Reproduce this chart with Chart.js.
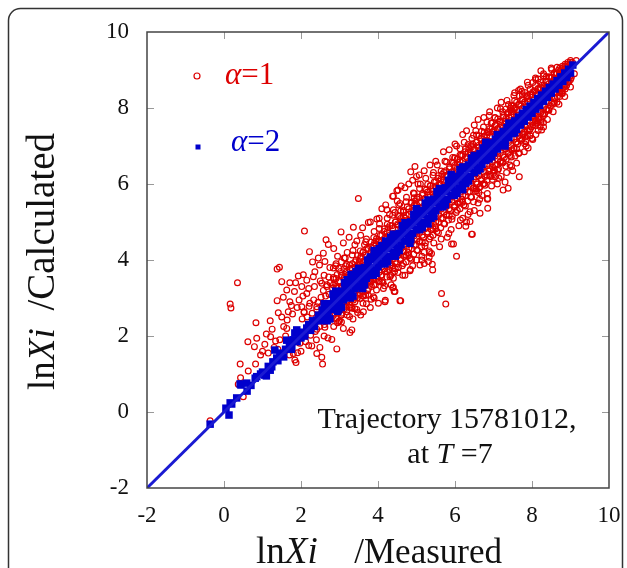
<!DOCTYPE html>
<html>
<head>
<meta charset="utf-8">
<script src="https://cdn.jsdelivr.net/npm/chart.js@4.4.1/dist/chart.umd.min.js"></script>
<style>
  html, body { margin: 0; padding: 0; background: #fff; }
  canvas { display: block; }
</style>
</head>
<body>
<canvas id="scatter" width="627" height="568"></canvas>
<script>
// axis ticks
const xTicks = [-2, 0, 2, 4, 6, 8, 10];
const yTicks = [-2, 0, 2, 4, 6, 8, 10];

// y = x reference line
const diagX = [-2, 10];
const diagY = [-2, 10];

// alpha = 1, dense band along the diagonal
const alpha1Band = [
  [2.03,2.45],[2.08,2.62],[2.12,1.85],[2.16,2.5],[2.21,2.78],[2.25,2.02],[2.29,2.6],[2.33,2.95],[2.37,2.12],[2.41,2.7],[2.44,2.88],[2.48,2.25],
  [2.52,3.02],[2.55,2.8],[2.58,3.2],[2.61,2.3],[2.64,3.05],[2.67,3.35],[2.7,2.5],[2.73,3.1],[2.76,3.4],[2.79,2.45],[2.82,3.25],[2.85,3.5],[2.88,2.6],[2.91,3.3],[2.94,3.62],[2.97,2.72],
  [3.01,3.45],[3.03,3.7],[3.06,2.6],[3.08,3.3],[3.11,2.8],[3.13,3.55],[3.16,3.85],[3.18,2.9],[3.21,3.6],[3.23,3.4],[3.26,2.75],[3.28,3.75],[3.31,3.05],[3.33,3.9],[3.36,2.95],[3.38,3.68],[3.41,3.2],[3.43,4.0],[3.46,3.0],[3.48,3.85],
  [3.51,3.95],[3.53,3.1],[3.56,4.1],[3.58,3.25],[3.61,4.2],[3.63,3.05],[3.66,3.95],[3.68,3.35],[3.71,4.3],[3.73,3.2],[3.76,4.05],[3.78,3.45],[3.81,4.35],[3.83,3.3],[3.86,4.15],[3.88,3.5],[3.91,4.45],[3.93,3.35],[3.96,4.2],[3.98,3.55],
  [3.55,3.75],[3.65,3.7],[3.75,3.85],[3.85,3.95],[3.95,4.5],
  [4.01,4.5],[4.03,3.45],[4.06,4.65],[4.08,3.6],[4.11,4.4],[4.13,3.4],[4.16,4.75],[4.18,3.7],[4.21,4.55],[4.23,3.55],[4.26,4.85],[4.28,3.75],[4.31,4.6],[4.33,3.6],[4.36,4.9],[4.38,3.85],[4.41,4.7],[4.43,3.7],[4.46,5.0],[4.48,3.9],
  [4.04,4.95],[4.14,3.25],[4.24,5.1],[4.34,3.35],[4.44,5.25],
  [4.51,4.95],[4.53,3.8],[4.56,5.15],[4.58,4.0],[4.61,5.0],[4.63,3.85],[4.66,5.3],[4.68,4.1],[4.71,5.1],[4.73,3.95],[4.76,5.4],[4.78,4.2],[4.81,5.2],[4.83,4.05],[4.86,5.5],[4.88,4.3],[4.91,5.3],[4.93,4.15],[4.96,5.55],[4.98,4.4],
  [4.54,5.45],[4.64,3.6],[4.74,5.65],[4.84,3.75],[4.94,5.75],
  [5.01,5.45],[5.03,4.25],[5.06,5.65],[5.08,4.5],[5.11,5.5],[5.13,4.35],[5.16,5.75],[5.18,4.6],[5.21,5.6],[5.23,4.45],[5.26,5.85],[5.28,4.7],[5.31,5.7],[5.33,4.55],[5.36,5.95],[5.38,4.8],[5.41,5.8],[5.43,4.65],[5.46,6.05],[5.48,4.9],
  [5.04,6.0],[5.14,4.0],[5.24,6.15],[5.34,4.2],[5.44,6.3],
  [5.51,5.95],[5.53,4.75],[5.56,6.15],[5.58,5.0],[5.61,6.0],[5.63,4.85],[5.66,6.25],[5.68,5.1],[5.71,6.1],[5.73,4.95],[5.76,6.35],[5.78,5.2],[5.81,6.2],[5.83,5.05],[5.86,6.45],[5.88,5.3],[5.91,6.3],[5.93,5.15],[5.96,6.55],[5.98,5.4],
  [5.54,6.5],[5.64,4.55],[5.74,6.6],[5.84,4.7],[5.94,6.7],
  [6.01,6.45],[6.03,5.25],[6.06,6.65],[6.08,5.5],[6.11,6.5],[6.13,5.35],[6.16,6.75],[6.18,5.6],[6.21,6.6],[6.23,5.45],[6.26,6.85],[6.28,5.7],[6.31,6.7],[6.33,5.55],[6.36,6.95],[6.38,5.8],[6.41,6.8],[6.43,5.65],[6.46,7.05],[6.48,5.9],
  [6.04,7.0],[6.14,5.05],[6.24,7.1],[6.34,5.2],[6.44,7.2],
  [6.51,6.9],[6.53,5.8],[6.56,7.1],[6.58,6.0],[6.61,6.95],[6.63,5.9],[6.66,7.2],[6.68,6.1],[6.71,7.05],[6.73,6.0],[6.76,7.25],[6.78,6.2],[6.81,7.15],[6.83,6.1],[6.86,7.35],[6.88,6.35],[6.91,7.25],[6.93,6.2],[6.96,7.45],[6.98,6.45],
  [6.54,7.4],[6.64,5.6],[6.74,7.5],[6.84,5.75],[6.94,7.6],
  [7.01,7.4],[7.03,6.35],[7.06,7.55],[7.08,6.5],[7.11,7.45],[7.13,6.4],[7.16,7.65],[7.18,6.6],[7.21,7.55],[7.23,6.55],[7.26,7.75],[7.28,6.7],[7.31,7.65],[7.33,6.65],[7.36,7.85],[7.38,6.8],[7.41,7.75],[7.43,6.75],[7.46,7.9],[7.48,6.9],
  [7.04,7.75],[7.14,6.15],[7.24,7.9],[7.34,6.3],[7.44,8.0],
  [7.51,7.9],[7.53,6.95],[7.56,8.0],[7.58,7.1],[7.61,7.95],[7.63,7.05],[7.66,8.1],[7.68,7.2],[7.71,8.05],[7.73,7.15],[7.76,8.2],[7.78,7.3],[7.81,8.15],[7.83,7.25],[7.86,8.3],[7.88,7.4],[7.91,8.25],[7.93,7.4],[7.96,8.35],[7.98,7.5],
  [7.55,8.2],[7.65,6.8],[7.75,8.35],[7.85,7.0],
  [8.01,8.35],[8.03,7.55],[8.06,8.45],[8.08,7.65],[8.11,8.4],[8.13,7.6],[8.16,8.5],[8.18,7.75],[8.21,8.5],[8.23,7.7],[8.26,8.6],[8.28,7.85],[8.31,8.6],[8.33,7.85],[8.36,8.7],[8.38,7.95],[8.41,8.7],[8.43,7.95],[8.46,8.8],[8.48,8.05],
  [8.51,8.8],[8.54,8.1],[8.57,8.9],[8.6,8.25],[8.63,8.9],[8.66,8.3],[8.69,9.0],[8.72,8.4],[8.75,9.0],[8.78,8.45],[8.81,9.05],[8.84,8.55],[8.87,9.1],[8.9,8.6],[8.93,9.15],[8.96,8.7],[8.99,9.2],[9.02,8.8],[9.05,9.2],[9.1,8.9],[9.15,9.25]
];

// alpha = 1, more of the band, one column of y values per x
const alpha1Columns = [
  [2.84,[3.09,3.34,3.54,2.54,3.79]],[2.91,[3.26,3.51,2.66,2.46,3.9]],[2.98,[3.28,3.43,3.78,2.63,2.38]],
  [3.05,[3.27,3.6,2.77,2.55,2.37]],[3.12,[3.52,3.77,2.9,2.72,4.05]],[3.19,[3.44,3.69,3.89,2.89,2.64]],
  [3.26,[3.61,3.86,3.01,2.81,2.51]],[3.33,[3.63,3.78,4.13,2.98,2.73]],[3.4,[3.62,3.95,3.12,2.9,2.72]],
  [3.47,[3.87,4.12,3.25,3.07,2.62]],[3.54,[3.79,4.04,4.24,3.24,2.99]],[3.61,[3.96,4.21,3.36,3.16,2.86]],
  [3.68,[3.98,4.13,4.48,3.33,3.08]],[3.75,[3.97,4.3,3.47,3.25,3.07]],[3.82,[4.22,4.47,3.6,3.42,2.97]],
  [3.89,[4.14,4.39,4.59,3.59,3.34]],[3.96,[4.31,4.56,3.71,3.51,3.21]],[4.03,[4.33,4.48,4.83,3.68,3.43]],
  [4.1,[4.32,4.65,3.82,3.6,3.42]],[4.17,[4.57,4.82,3.95,3.77,3.32]],[4.24,[4.49,4.74,4.94,3.94,3.69]],
  [4.31,[4.66,4.91,4.06,3.86,3.56]],[4.38,[4.68,4.83,5.18,4.03,3.78]],[4.45,[4.67,5.0,4.17,3.95,3.77]],
  [4.52,[4.92,5.17,4.3,4.12,3.67]],[4.59,[4.84,5.09,5.29,4.29,4.04]],[4.66,[5.01,5.26,4.41,4.21,3.91]],
  [4.73,[5.03,5.18,5.53,4.38,4.13]],[4.8,[5.02,5.35,4.52,4.3,4.12]],[4.87,[5.27,5.52,4.65,4.47,4.02]],
  [4.94,[5.19,5.44,5.64,4.64,4.39]],[5.01,[5.36,5.61,4.76,4.56,4.26]],[5.08,[5.38,5.53,5.88,4.73,4.48]],
  [5.15,[5.37,5.7,4.87,4.65,4.47]],[5.22,[5.62,5.87,5.0,4.82,4.37]],[5.29,[5.54,5.79,5.99,4.99,4.74]],
  [5.36,[5.71,5.96,5.11,4.91,4.61]],[5.43,[5.73,5.88,6.23,5.08,4.83]],[5.5,[5.72,6.05,5.22,5.0,4.82]],
  [5.57,[5.97,6.22,5.35,5.17,4.72]],[5.64,[5.89,6.14,6.34,5.34,5.09]],[5.71,[6.06,6.31,5.46,5.26,4.96]],
  [5.78,[6.08,6.23,6.58,5.43,5.18]],[5.85,[6.07,6.4,5.57,5.35,5.17]],[5.92,[6.32,6.57,5.7,5.52,5.07]],
  [5.99,[6.24,6.49,6.69,5.69,5.44]],[6.06,[6.41,6.66,5.81,5.61,5.31]],[6.13,[6.43,6.58,6.93,5.78,5.53]],
  [6.2,[6.42,6.75,5.92,5.7,5.52]],[6.27,[6.67,6.92,6.05,5.87,5.42]],[6.34,[6.59,6.84,7.04,6.04,5.79]],
  [6.41,[6.76,7.01,6.16,5.96,5.66]],[6.48,[6.78,6.93,7.28,6.13,5.88]],[6.55,[6.77,7.1,6.27,6.05,5.87]],
  [6.62,[7.02,7.27,6.4,6.22,5.77]],[6.69,[6.94,7.19,7.39,6.39,6.14]],[6.76,[7.11,7.36,6.51,6.31,6.01]],
  [6.83,[7.13,7.28,7.63,6.48,6.23]],[6.9,[7.12,7.45,6.62,6.4,6.22]],[6.97,[7.37,7.62,6.75,6.57,6.12]],
  [7.04,[7.29,7.54,7.74,6.74,6.49]],[7.11,[7.46,7.71,6.86,6.66,6.36]],[7.18,[7.48,7.63,7.98,6.83,6.58]],
  [7.25,[7.47,7.8,6.97,6.75,6.57]],[7.32,[7.72,7.97,7.1,6.92,6.47]],[7.39,[7.64,7.89,8.09,7.09,6.84]],
  [7.46,[7.81,8.06,7.21,7.01,6.71]],[7.53,[7.83,7.98,8.33,7.18,6.93]],[7.6,[7.82,8.15,7.32,7.1,6.92]],
  [7.67,[8.07,8.32,7.45,7.27,6.82]],[7.74,[7.99,8.24,8.44,7.44,7.19]],[7.81,[8.16,8.41,7.56,7.36,7.06]],
  [7.88,[8.18,8.33,8.68,7.53,7.28]],[7.95,[8.17,8.5,7.67,7.45,7.27]],[8.02,[8.42,8.67,7.8,7.62,7.17]],
  [8.09,[8.34,8.59,8.79,7.79,7.54]],[8.16,[8.51,8.76,7.91,7.71,7.41]],[8.23,[8.53,8.68,8.98,7.88,7.63]],
  [8.3,[8.52,8.85,8.02,7.8,7.62]],[8.37,[8.52,8.7,8.82,8.17,7.97]],[8.44,[8.64,8.82,8.29,8.14,7.94]],
  [8.51,[8.69,8.81,9.01,8.29,8.13]],[8.58,[8.73,8.93,8.4,8.26,8.13]],[8.65,[8.9,9.07,8.5,8.4,8.15]],
  [8.72,[8.9,9.05,8.55,8.42,8.3]],[8.79,[8.95,9.1,8.62,8.5,8.38]],[8.86,[9.02,9.15,8.7,8.6,8.5]],
  [8.93,[9.08,9.2,8.78,8.68]],[9.0,[9.15,9.25,8.85,8.75]]
];

// alpha = 1, scattered points away from the band
const alpha1Scatter = [
  [-0.36,-0.23],[0.37,0.73],[0.5,0.4],[0.16,2.84],[0.18,2.74],[0.35,3.4],[0.83,2.35],[0.62,1.85],[0.85,1.94],[0.79,1.72],
  [1.06,1.78],[1.25,2.18],[1.21,1.98],[1.34,1.87],[0.42,1.26],[0.82,1.26],[0.43,0.9],[0.63,1.08],[1.38,3.76],[1.44,3.81],
  [1.5,3.43],[1.71,3.4],[1.83,3.17],[1.63,3.21],[1.38,2.93],[1.54,3.02],[1.71,2.9],[1.41,2.61],[1.67,2.64],[1.78,2.58],
  [1.64,2.42],[1.63,2.2],[1.86,3.4],[1.93,3.58],[2.06,3.61],[2.22,4.22],[2.36,3.69],[2.32,3.56],[2.15,3.47],[2.02,3.3],
  [2.15,3.12],[2.02,2.77],[2.23,2.86],[2.08,2.64],[2.41,2.77],[2.48,3.87],[2.58,4.18],[2.62,3.96],[2.54,3.39],[2.67,3.3],
  [2.28,1.74],[2.49,1.7],[2.41,1.54],[2.54,1.44],[2.56,1.26],[1.84,1.37],[1.91,1.56],[1.87,1.3],[1.7,1.5],[2.41,2.18],
  [2.62,2.23],[2.09,4.76],[2.65,4.53],[2.71,4.41],[3.04,4.74],[3.36,4.86],[3.49,5.62],[3.75,4.99],[3.97,5.08],[4.03,5.1],
  [4.38,5.68],[4.49,5.82],[4.52,5.84],[4.92,5.76],[4.96,6.46],[4.85,6.32],[5.07,6.24],[5.65,3.12],[5.76,2.84],[5.41,3.89],
  [5.33,4.07],[5.14,4.1],[4.83,3.72],[4.57,2.93],[4.18,2.9],[4.01,2.86],[4.4,3.52],[4.38,3.27],[3.88,3.03],[3.62,2.64],
  [3.32,2.16],[3.27,2.09],[2.93,1.66],[2.8,1.91],[1.8,1.54],[1.97,1.81],[4.57,5.49],[4.4,5.32],[4.23,5.32],[6.04,4.1],
  [5.96,4.42],[5.91,4.42],[6.45,4.68],[6.28,4.89],[6.39,5.01],[6.65,5.23],[6.85,5.36],[6.85,5.62],[6.56,5.82],[6.48,5.53],
  [6.78,5.97],[7.0,6.28],[5.42,3.74],[5.09,3.87],[4.44,3.17],[5.39,4.17],[5.31,3.96],[5.2,3.91],[5.33,4.24],[4.59,2.93],
  [4.19,2.94],[4.42,3.17],[4.4,3.28],[6.39,5.27],[6.43,4.68],[7.65,8.46],[6.89,7.8],[7.5,8.06],[6.56,7.29],[6.86,7.38],
  [6.0,6.68],[6.13,6.76],[6.43,6.98],[4.4,5.68],[8.77,8.39],[8.73,8.47],[8.21,7.51],[8.25,7.42],[8.12,7.67],[7.84,7.11],
  [7.77,7.32],[7.56,6.74],[7.43,6.5],[7.47,6.46],[7.67,6.19],[7.38,5.89],[7.25,5.84],[7.0,6.37],[7.04,6.19],[6.84,5.6],
  [6.65,5.93],[2.3,3.95],[2.45,4.05],[2.75,3.8],[2.85,4.3],[2.95,4.1],[3.1,4.45],[3.2,4.2],[3.25,4.6],[3.4,4.4],
  [3.55,4.65],[3.6,4.85],[3.7,4.55],[3.8,5.0],[3.9,4.75],[2.6,3.6],[2.72,3.55],[2.9,3.85],[3.05,3.95],[3.15,4.05],
  [3.35,4.25],[3.45,4.5],[3.65,4.4],[1.95,2.95],[2.05,3.05],[2.2,3.25],[2.35,3.3],[2.5,3.45],[1.55,2.25],[1.75,2.8],
  [1.9,2.75],[1.5,2.5],[1.2,2.4],[1.1,2.05],[1.0,1.6],[0.95,1.5],[1.15,1.55],[1.3,1.7],[1.45,1.9],[1.6,2.0],
  [1.4,1.65],[2.7,1.95],[2.85,2.25],[3.0,2.4],[3.1,2.2],[3.2,2.55],[3.35,2.45],[3.45,2.7],[3.55,2.55],[3.7,2.85],
  [3.8,2.75],[3.9,3.0],[3.6,3.05],[3.3,2.75],[3.05,2.55],[2.95,2.35],[2.6,2.0],[2.4,1.9],[2.2,1.75],[2.0,1.6],
  [4.7,3.6],[4.9,3.85],[5.0,4.0],[5.2,4.2],[5.45,4.45],[5.6,4.35],[5.8,4.6],[5.9,4.8],[6.1,4.9],[6.2,5.1],
  [6.3,5.0],[6.5,5.3],[6.6,5.5],[6.7,5.7],[6.95,5.95],[7.1,6.0],[7.2,6.2],[7.3,6.05],[7.5,6.35],[7.6,6.55],
  [7.8,6.85],[7.9,6.95],[8.0,7.2],[8.1,7.3],[8.3,7.5],[8.4,7.7],[8.55,7.9],[8.7,8.1],[8.85,8.3],[9.0,8.55],
  [5.2,6.35],[5.35,6.5],[5.5,6.6],[5.7,6.85],[5.85,6.9],[6.0,7.05],[6.2,7.3],[6.3,7.4],[6.5,7.55],[6.6,7.7],
  [6.75,7.75],[6.9,7.9],[7.1,8.0],[7.2,8.15],[7.35,8.2],[7.55,8.4],[7.7,8.5],[7.9,8.6],[8.1,8.75],[8.3,8.9],
  [8.5,9.05],[4.1,5.35],[4.2,5.45],[4.3,5.2],[4.5,5.55],[4.6,5.95],[4.7,5.9],[4.8,6.0],[4.9,6.1],[5.0,6.2],[5.1,6.0]
];

// alpha = 2, tight band on the diagonal
const alpha2Points = [
  [-0.36,-0.32],[0.05,0.1],[0.13,-0.08],[0.2,0.21],[0.33,0.37],[0.44,0.71],[0.59,0.76],[0.81,0.89],[0.85,0.93],[1.1,0.95],
  [1.24,1.19],[1.27,1.32],[1.37,1.42],[1.5,1.55],[1.63,1.89],[1.76,1.72],[1.84,2.08],[1.32,1.63],[0.42,0.74],[0.16,0.24],
  [1.06,0.97],[1.89,2.16],[2.15,2.21],[2.41,2.42],[0.6,0.55],[0.7,0.7],[0.95,1.0],[1.0,1.05],[1.15,1.2],[1.2,1.1],
  [1.4,1.35],[1.45,1.5],[1.55,1.45],[1.6,1.65],[1.7,1.8],[1.75,1.65],[1.8,1.9],[1.9,1.85],[1.95,2.05],[2.0,1.95],
  [2.05,2.1],[2.1,2.0],[2.2,2.3],[2.25,2.15],[2.3,2.4],[2.35,2.25],[2.45,2.55],[2.5,2.4],
  [2.55,2.68],[2.6,2.5],[2.65,2.72],[2.7,2.58],[2.75,2.85],[2.8,2.7],[2.85,2.93],[2.9,2.78],[2.95,3.1],[3.0,2.88],
  [3.05,3.18],[3.1,2.95],[3.15,3.3],[3.2,3.05],[3.25,3.38],[3.3,3.12],[3.35,3.5],[3.4,3.25],[3.45,3.6],[3.5,3.32],
  [3.55,3.7],[3.6,3.42],[3.65,3.8],[3.7,3.52],[3.75,3.9],[3.8,3.62],[3.85,4.02],[3.9,3.72],[3.95,4.1],[4.0,3.82],
  [4.05,4.2],[4.1,3.9],[4.15,4.3],[4.2,4.02],[4.25,4.38],[4.3,4.1],[4.35,4.5],[4.4,4.2],[4.45,4.6],[4.5,4.3],
  [4.55,4.7],[4.6,4.4],[4.65,4.8],[4.7,4.5],[4.75,4.9],[4.8,4.6],[4.85,5.0],[4.9,4.7],[4.95,5.1],[5.0,4.8],
  [5.05,5.2],[5.1,4.9],[5.15,5.3],[5.2,5.0],[5.25,5.4],[5.3,5.1],[5.35,5.5],[5.4,5.2],[5.45,5.6],[5.5,5.3],
  [5.55,5.7],[5.6,5.4],[5.65,5.8],[5.7,5.5],[5.75,5.9],[5.8,5.6],[5.85,6.0],[5.9,5.7],[5.95,6.1],[6.0,5.8],
  [6.05,6.2],[6.1,5.9],[6.15,6.3],[6.2,6.0],[6.25,6.4],[6.3,6.1],[6.35,6.5],[6.4,6.2],[6.45,6.6],[6.5,6.3],
  [6.55,6.7],[6.6,6.42],[6.65,6.8],[6.7,6.52],[6.75,6.88],[6.8,6.62],[6.85,6.98],[6.9,6.72],[6.95,7.08],[7.0,6.82],
  [7.05,7.18],[7.1,6.92],[7.15,7.28],[7.2,7.02],[7.25,7.38],[7.3,7.12],[7.35,7.48],[7.4,7.22],[7.45,7.57],[7.5,7.33],
  [7.55,7.66],[7.6,7.44],[7.65,7.76],[7.7,7.55],[7.75,7.86],[7.8,7.65],[7.85,7.96],[7.9,7.76],[7.95,8.05],[8.0,7.86],
  [8.05,8.15],[8.1,7.97],[8.15,8.25],[8.2,8.07],[8.25,8.34],[8.3,8.18],[8.35,8.44],[8.4,8.28],[8.45,8.54],[8.5,8.39],
  [8.55,8.63],[8.6,8.5],[8.65,8.72],[8.7,8.6],[8.75,8.82],[8.8,8.7],[8.85,8.92],[8.9,8.8],[8.95,9.02],[9.0,8.92],[9.06,9.13],
  [3.3,3.62],[3.6,3.25],[4.2,4.5],[4.45,4.1],[5.0,5.35],[5.3,4.95],[5.9,6.25],[6.2,5.85],[6.8,7.1],[7.3,7.0],
  [3.9,4.25],[2.85,3.1],[2.95,2.65],[4.83,4.44],
  [2.6,2.85],[2.75,2.45],[2.9,3.18],[3.05,2.75],[3.2,3.48],[3.35,3.05],[3.5,3.78],[3.65,3.35],[3.8,4.08],[3.95,3.65],
  [4.1,4.38],[4.25,3.95],[4.4,4.68],[4.55,4.25],[4.7,4.98],[4.85,4.55],[5.0,5.28],[5.15,4.85],[5.3,5.58],[5.45,5.15],
  [5.6,5.88],[5.75,5.45],[5.9,6.18],[6.05,5.75],[6.2,6.45],[6.35,6.08],[6.5,6.75],[6.65,6.4],[6.8,7.02],[6.95,6.72],
  [7.1,7.3],[7.25,7.03],[7.4,7.6],[7.55,7.35],
  [2.68,2.4],[2.83,3.1],[2.98,2.7],[3.13,3.4],[3.28,3.0],[3.43,3.7],[3.58,3.3],[3.73,4.0],[3.88,3.6],[4.03,4.3],
  [4.18,3.9],[4.33,4.6],[4.48,4.2],[4.63,4.9],[4.78,4.5],[4.93,5.2],[5.08,4.8],[5.23,5.5],[5.38,5.1],[5.53,5.8],
  [5.68,5.4],[5.83,6.1],[5.98,5.7],[6.13,6.38],[6.28,6.02],[6.43,6.68],[6.58,6.35],[6.73,6.95],[6.88,6.66],
  [2.62,2.6],[2.78,2.8],[2.92,2.9],[3.08,3.1],[3.22,3.2],[3.38,3.4],[3.52,3.5],[3.68,3.7],[3.82,3.8],[3.98,4.0],
  [4.12,4.1],[4.28,4.3],[4.42,4.4],[4.58,4.6],[4.72,4.7],[4.88,4.9],[5.02,5.0],[5.18,5.2],[5.32,5.3],[5.48,5.5],
  [5.62,5.6],[5.78,5.8],[5.92,5.9],[6.08,6.1],[6.22,6.2],[6.38,6.4],[6.52,6.5],[6.68,6.7],[6.82,6.8],[6.98,7.0],
  [7.12,7.1],[7.28,7.3],[7.42,7.4],[7.58,7.6],[7.72,7.7],[7.88,7.9],[8.02,8.0],[8.18,8.2],[8.32,8.3],[8.48,8.5],
  [8.62,8.6],[8.78,8.8],[8.92,8.9]
];

const serif = '"Liberation Serif", "Times New Roman", serif';
const red = '#dd0000';
const blue = '#0000cc';

const toXY = pts => pts.map(p => ({ x: p[0], y: p[1] }));
const fromColumns = cols => cols.flatMap(c => c[1].map(v => ({ x: c[0], y: v })));

// draw text made of plain / italic pieces: [text, italic, size]
function drawRuns(ctx, parts, x, y, align) {
  const fontOf = p => (p[1] ? 'italic ' : '') + p[2] + 'px ' + serif;
  const widths = parts.map(p => {
    ctx.font = fontOf(p);
    return ctx.measureText(p[0]).width;
  });
  const total = widths.reduce((a, b) => a + b, 0);
  let cx = x;
  if (align === 'center') cx = x - total / 2;
  if (align === 'right') cx = x - total;
  ctx.textAlign = 'left';
  ctx.textBaseline = 'alphabetic';
  parts.forEach((p, i) => {
    ctx.font = fontOf(p);
    ctx.fillText(p[0], cx, y);
    cx += widths[i];
  });
}

const decor = {
  id: 'decor',
  beforeDraw(chart) {
    const ctx = chart.ctx;
    ctx.save();
    ctx.fillStyle = '#fff';
    ctx.fillRect(0, 0, chart.width, chart.height);
    ctx.strokeStyle = '#333';
    ctx.lineWidth = 1.5;
    ctx.beginPath();
    ctx.roundRect(8.5, 8.5, 614, 640, 12);
    ctx.stroke();
    ctx.restore();
  },
  afterDraw(chart) {
    const { ctx, chartArea: a, scales: { x, y } } = chart;
    ctx.save();

    // inward tick marks on all four sides
    ctx.strokeStyle = '#999';
    ctx.lineWidth = 1;
    ctx.beginPath();
    xTicks.slice(1, -1).forEach(v => {
      const px = Math.round(x.getPixelForValue(v)) + 0.5;
      ctx.moveTo(px, a.bottom); ctx.lineTo(px, a.bottom - 7);
      ctx.moveTo(px, a.top); ctx.lineTo(px, a.top + 7);
    });
    yTicks.slice(1, -1).forEach(v => {
      const py = Math.round(y.getPixelForValue(v)) + 0.5;
      ctx.moveTo(a.left, py); ctx.lineTo(a.left + 7, py);
      ctx.moveTo(a.right, py); ctx.lineTo(a.right - 7, py);
    });
    ctx.stroke();

    // frame
    ctx.strokeStyle = '#444';
    ctx.lineWidth = 1.5;
    ctx.strokeRect(a.left, a.top, a.right - a.left, a.bottom - a.top);

    // axis titles
    ctx.fillStyle = '#111';
    drawRuns(ctx, [['ln', false, 37], ['Xi', true, 37]], 256, 563, 'left');
    drawRuns(ctx, [['/Measured', false, 35]], 502, 563, 'right');
    ctx.save();
    ctx.translate(54, 390);
    ctx.rotate(-Math.PI / 2);
    drawRuns(ctx, [['ln', false, 37], ['Xi', true, 37]], 0, 0, 'left');
    drawRuns(ctx, [['/Calculated', false, 39]], 257, 0, 'right');
    ctx.restore();

    // note
    drawRuns(ctx, [['Trajectory 15781012,', false, 30]], 447, 428, 'center');
    drawRuns(ctx, [['at ', false, 30], ['T', true, 30], [' =7', false, 30]], 450, 463, 'center');

    // legend
    ctx.strokeStyle = red;
    ctx.lineWidth = 1.2;
    ctx.beginPath();
    ctx.arc(197, 76, 3, 0, Math.PI * 2);
    ctx.stroke();
    ctx.fillStyle = red;
    drawRuns(ctx, [['α', true, 31], ['=1', false, 31]], 225, 84, 'left');
    ctx.fillStyle = blue;
    ctx.fillRect(195.5, 144.5, 5, 5);
    drawRuns(ctx, [['α', true, 31], ['=2', false, 31]], 231, 151, 'left');

    ctx.restore();
  }
};

new Chart(document.getElementById('scatter'), {
  type: 'scatter',
  data: {
    datasets: [
      {
        label: 'diagonal',
        data: diagX.map((v, i) => ({ x: v, y: diagY[i] })),
        showLine: true,
        borderColor: '#1a1ad2',
        borderWidth: 3,
        pointRadius: 0,
        order: 0
      },
      {
        label: 'α=2',
        data: toXY(alpha2Points),
        pointStyle: 'rect',
        pointRadius: 5.3,
        backgroundColor: blue,
        borderColor: blue,
        borderWidth: 0,
        order: 1
      },
      {
        label: 'α=1',
        data: toXY(alpha1Band.concat(alpha1Scatter)).concat(fromColumns(alpha1Columns)),
        pointStyle: 'circle',
        pointRadius: 2.9,
        backgroundColor: 'rgba(0,0,0,0)',
        borderColor: red,
        borderWidth: 1.2,
        order: 2
      }
    ]
  },
  options: {
    responsive: false,
    animation: false,
    devicePixelRatio: 1,
    layout: { padding: { top: 32, right: 18, left: 0, bottom: 0 } },
    plugins: {
      legend: { display: false },
      tooltip: { enabled: false }
    },
    scales: {
      x: {
        type: 'linear',
        min: -2,
        max: 10,
        afterBuildTicks: s => { s.ticks = xTicks.map(v => ({ value: v })); },
        afterFit: s => { s.height = 80; },
        grid: { display: false },
        border: { display: false },
        ticks: {
          color: '#111',
          padding: 6,
          maxRotation: 0,
          font: { family: serif, size: 23 }
        }
      },
      y: {
        type: 'linear',
        min: -2,
        max: 10,
        afterBuildTicks: s => { s.ticks = yTicks.map(v => ({ value: v })); },
        afterFit: s => { s.width = 147; },
        grid: { display: false },
        border: { display: false },
        ticks: {
          color: '#111',
          padding: 10,
          font: { family: serif, size: 23 }
        }
      }
    }
  },
  plugins: [decor]
});
</script>
</body>
</html>
